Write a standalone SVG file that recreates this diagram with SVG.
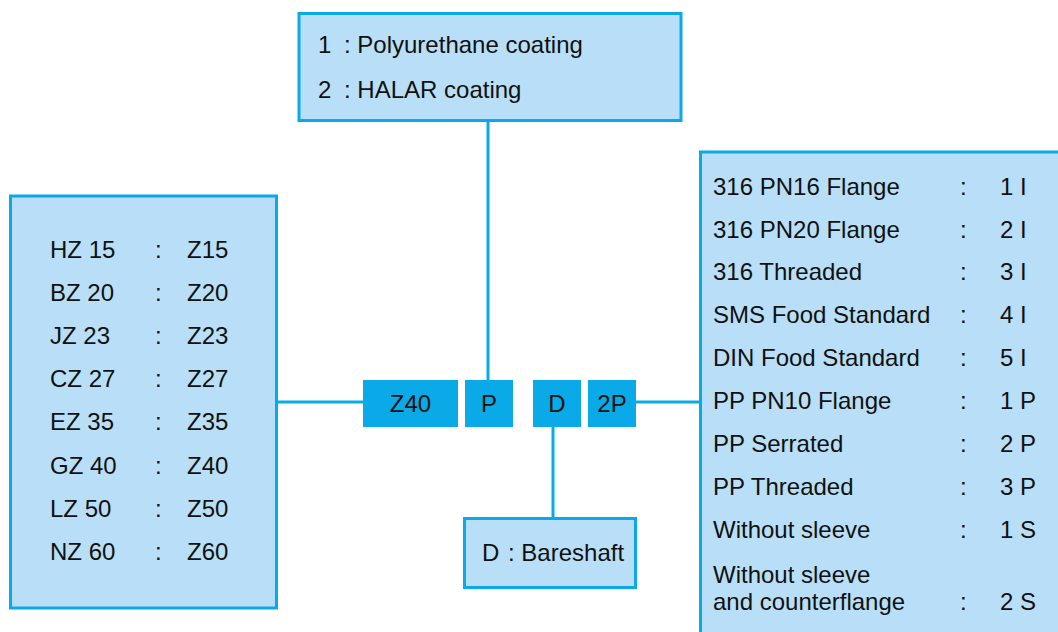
<svg xmlns="http://www.w3.org/2000/svg" width="1058" height="632" viewBox="0 0 1058 632">
<style>
.box{fill:#b8dff7;stroke:#0aaae8;stroke-width:3}
.key{fill:#0aaae8}
.ln{stroke:#0aaae8;stroke-width:3;fill:none}
text{font-family:"Liberation Sans",Arial,sans-serif;font-size:24px;fill:#111}
.m{text-anchor:middle}
</style>
<rect width="1058" height="632" fill="#ffffff"/>
<g id="connectors">
<line class="ln" x1="488" y1="120" x2="488" y2="380"/>
<line class="ln" x1="277" y1="402" x2="363" y2="402"/>
<line class="ln" x1="636" y1="402" x2="700" y2="402"/>
<line class="ln" x1="553" y1="427" x2="553" y2="518"/>
</g>
<g id="coating">
<rect class="box" x="299" y="13.500" width="382" height="107"/>
<text x="318" y="53">1</text><text x="344" y="53">: Polyurethane coating</text>
<text x="318" y="98">2</text><text x="344" y="98">: HALAR coating</text>
</g>
<g id="models">
<rect class="box" x="10.500" y="196" width="266" height="412"/>
<g>
<text x="50" y="258">HZ 15</text><text x="155" y="258">:</text><text x="187" y="258">Z15</text>
<text x="50" y="301">BZ 20</text><text x="155" y="301">:</text><text x="187" y="301">Z20</text>
<text x="50" y="344">JZ 23</text><text x="155" y="344">:</text><text x="187" y="344">Z23</text>
<text x="50" y="387">CZ 27</text><text x="155" y="387">:</text><text x="187" y="387">Z27</text>
<text x="50" y="430">EZ 35</text><text x="155" y="430">:</text><text x="187" y="430">Z35</text>
<text x="50" y="474">GZ 40</text><text x="155" y="474">:</text><text x="187" y="474">Z40</text>
<text x="50" y="517">LZ 50</text><text x="155" y="517">:</text><text x="187" y="517">Z50</text>
<text x="50" y="560">NZ 60</text><text x="155" y="560">:</text><text x="187" y="560">Z60</text>
</g>
</g>
<g id="key-z40"><rect class="key" x="363" y="380" width="95" height="47"/><text class="m" x="410.500" y="412">Z40</text></g>
<g id="key-p"><rect class="key" x="465" y="380" width="48" height="47"/><text class="m" x="489" y="412">P</text></g>
<g id="key-d"><rect class="key" x="533" y="380" width="48" height="47"/><text class="m" x="557" y="412">D</text></g>
<g id="key-2p"><rect class="key" x="588" y="380" width="48" height="47"/><text class="m" x="612" y="412">2P</text></g>
<g id="bareshaft">
<rect class="box" x="464.500" y="518.500" width="171" height="69"/>
<text x="482" y="561">D</text><text x="508" y="561">: Bareshaft</text>
</g>
<g id="connections">
<rect class="box" x="700.500" y="152" width="380" height="500"/>
<text x="713" y="195">316 PN16 Flange</text><text x="960" y="195">:</text><text x="1000" y="195">1 I</text>
<text x="713" y="238">316 PN20 Flange</text><text x="960" y="238">:</text><text x="1000" y="238">2 I</text>
<text x="713" y="280">316 Threaded</text><text x="960" y="280">:</text><text x="1000" y="280">3 I</text>
<text x="713" y="323">SMS Food Standard</text><text x="960" y="323">:</text><text x="1000" y="323">4 I</text>
<text x="713" y="366">DIN Food Standard</text><text x="960" y="366">:</text><text x="1000" y="366">5 I</text>
<text x="713" y="409">PP PN10 Flange</text><text x="960" y="409">:</text><text x="1000" y="409">1 P</text>
<text x="713" y="452">PP Serrated</text><text x="960" y="452">:</text><text x="1000" y="452">2 P</text>
<text x="713" y="495">PP Threaded</text><text x="960" y="495">:</text><text x="1000" y="495">3 P</text>
<text x="713" y="538">Without sleeve</text><text x="960" y="538">:</text><text x="1000" y="538">1 S</text>
<text x="713" y="583">Without sleeve</text>
<text x="713" y="610">and counterflange</text><text x="960" y="610">:</text><text x="1000" y="610">2 S</text>
</g>
</svg>
